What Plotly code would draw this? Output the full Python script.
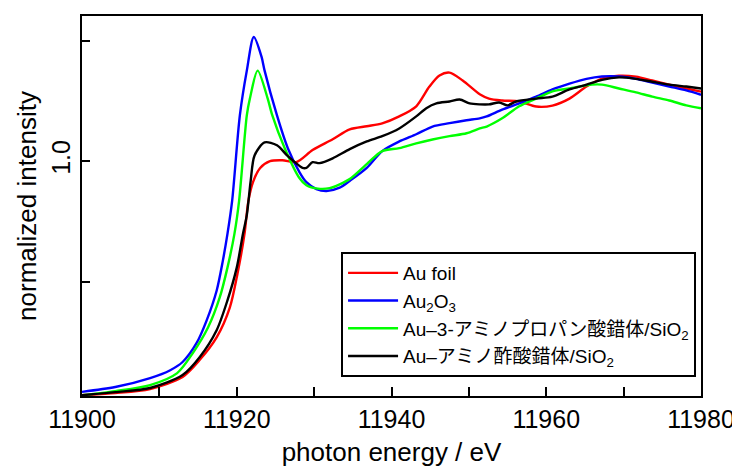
import plotly.graph_objects as go

# ---- data ----
x_foil = [11900, 11904.3, 11908.8, 11913.0, 11915.2, 11917.4, 11919.1, 11920.1, 11921.0, 11921.5,
          11922.1, 11923.0, 11924.3, 11925.9, 11927.7, 11929.8, 11932.4, 11934.6, 11936.8, 11938.8,
          11941.0, 11943.2, 11944.9, 11946.2, 11947.5, 11949.2, 11951.4, 11952.6, 11954.3, 11956.5,
          11958.7, 11960.8, 11963.0, 11965.2, 11967.2, 11969.4, 11971.6, 11973.7, 11975.9, 11978.1, 11980]
y_foil = [0.028, 0.037, 0.054, 0.104, 0.174, 0.268, 0.392, 0.534, 0.698, 0.834,
          0.913, 0.971, 1.000, 1.004, 0.996, 1.046, 1.091, 1.132, 1.145, 1.157,
          1.186, 1.228, 1.310, 1.356, 1.368, 1.335, 1.278, 1.260, 1.252, 1.248,
          1.227, 1.231, 1.260, 1.310, 1.343, 1.355, 1.351, 1.335, 1.318, 1.302, 1.289]

x_au2o3 = [11900, 11904.3, 11908.8, 11911.4, 11913.0, 11914.8, 11916.1, 11917.4, 11918.2, 11918.8,
           11919.4, 11920.4, 11921.3, 11922.2, 11923.2, 11923.6, 11925.2, 11926.6, 11928.1, 11929.0,
           11930.3, 11931.6, 11933.3, 11934.6, 11936.8, 11938.8, 11941.0, 11943.2, 11945.3, 11947.5,
           11949.7, 11951.4, 11952.3, 11954.3, 11956.5, 11958.7, 11960.8, 11963.0, 11965.2, 11967.2,
           11969.4, 11971.6, 11973.7, 11975.9, 11978.1, 11980]
y_au2o3 = [0.042, 0.062, 0.099, 0.132, 0.166, 0.244, 0.338, 0.462, 0.586, 0.698,
           0.834, 1.190, 1.376, 1.516, 1.434, 1.376, 1.190, 1.054, 0.955, 0.913,
           0.884, 0.876, 0.890, 0.918, 0.972, 1.042, 1.082, 1.112, 1.144, 1.158,
           1.170, 1.178, 1.186, 1.214, 1.240, 1.268, 1.298, 1.322, 1.342, 1.352,
           1.352, 1.342, 1.326, 1.310, 1.294, 1.276]

x_amp = [11900, 11904.3, 11908.8, 11912.3, 11914.3, 11916.3, 11917.8, 11918.8, 11919.7, 11920.3,
         11921.3, 11921.7, 11922.7, 11924.0, 11924.6, 11926.2, 11928.1, 11929.0, 11930.5, 11932.0,
         11933.3, 11934.6, 11936.8, 11938.8, 11941.0, 11943.2, 11945.3, 11947.5, 11949.7, 11951.4,
         11952.3, 11954.3, 11956.5, 11958.7, 11960.8, 11963.0, 11965.9, 11967.2, 11969.4, 11971.6,
         11973.7, 11975.9, 11978.1, 11980]
y_amp = [0.028, 0.045, 0.070, 0.120, 0.202, 0.310, 0.434, 0.558, 0.698, 0.834,
         1.190, 1.260, 1.376, 1.260, 1.190, 1.054, 0.930, 0.900, 0.886, 0.888,
         0.904, 0.926, 0.988, 1.042, 1.054, 1.074, 1.090, 1.104, 1.116, 1.136,
         1.144, 1.178, 1.228, 1.260, 1.290, 1.302, 1.318, 1.318, 1.302, 1.286,
         1.268, 1.252, 1.232, 1.220]

x_gly = [11900, 11904.3, 11908.8, 11913.0, 11915.2, 11917.4, 11918.8, 11920.0, 11920.8, 11921.3,
         11921.8, 11922.3, 11923.6, 11925.2, 11926.5, 11927.5, 11928.5, 11929.0, 11929.8, 11930.7,
         11932.4, 11934.6, 11936.8, 11938.8, 11941.0, 11943.2, 11944.5, 11945.8, 11947.5, 11948.8,
         11950.1, 11951.4, 11952.6, 11953.9, 11955.0, 11956.1, 11958.7, 11960.8, 11963.0, 11965.2,
         11967.2, 11969.4, 11971.6, 11973.7, 11975.9, 11978.1, 11980]
y_gly = [0.028, 0.041, 0.058, 0.112, 0.186, 0.298, 0.422, 0.558, 0.698, 0.776,
         0.918, 1.024, 1.078, 1.066, 1.024, 0.996, 0.972, 0.972, 0.996, 0.992,
         1.012, 1.050, 1.082, 1.104, 1.136, 1.186, 1.220, 1.240, 1.248, 1.256,
         1.240, 1.236, 1.236, 1.244, 1.232, 1.248, 1.260, 1.268, 1.298, 1.318,
         1.338, 1.348, 1.342, 1.330, 1.318, 1.310, 1.302]

series_names = ["Au foil", "Au<sub>2</sub>O<sub>3</sub>",
                "Au–3-アミノプロパン酸錯体/SiO<sub>2</sub>",
                "Au–アミノ酢酸錯体/SiO<sub>2</sub>"]
series_colors = ["#ff0000", "#0000ff", "#00ff00", "#000000"]

x_tickvals = [11900, 11910, 11920, 11930, 11940, 11950, 11960, 11970, 11980]
x_ticktext = ["11900", "", "11920", "", "11940", "", "11960", "", "11980"]
y_tickvals = [0.5, 1.0, 1.5]
y_ticktext = ["", "1.0", ""]

FONT = "Liberation Sans, Arial, Noto Sans CJK JP, sans-serif"

fig = go.Figure()
for xs, ys, name, col in zip([x_foil, x_au2o3, x_amp, x_gly],
                             [y_foil, y_au2o3, y_amp, y_gly],
                             series_names, series_colors):
    fig.add_trace(go.Scatter(x=xs, y=ys, name=name, mode="lines",
                             line=dict(color=col, width=2.4, shape="spline", smoothing=0.8)))

fig.update_layout(
    width=740, height=468,
    margin=dict(l=74, r=47, t=6, b=80),
    paper_bgcolor="white", plot_bgcolor="white",
    font=dict(family=FONT, color="black"),
    showlegend=True,
    legend=dict(x=0.4185, y=0.379, xanchor="left", yanchor="top",
                bordercolor="black", borderwidth=2, bgcolor="white",
                font=dict(size=19, family=FONT), itemwidth=50,
                tracegroupgap=0),
)
fig.update_xaxes(range=[11900, 11980], tickvals=x_tickvals, ticktext=x_ticktext,
                 ticks="inside", ticklen=9, tickwidth=2, tickcolor="black",
                 showline=True, linewidth=2, linecolor="black", mirror=True,
                 showgrid=False, zeroline=False,
                 tickfont=dict(size=25, family=FONT),
                 title=dict(text="photon energy / eV", font=dict(size=26, family=FONT), standoff=11))
fig.update_yaxes(range=[0.0248, 1.603], tickvals=y_tickvals, ticktext=y_ticktext,
                 ticks="inside", ticklen=8, tickwidth=2, tickcolor="black", tickangle=-90,
                 showline=True, linewidth=2, linecolor="black", mirror=True,
                 showgrid=False, zeroline=False,
                 tickfont=dict(size=25, family=FONT),
                 title=dict(text="normalized intensity", font=dict(size=26, family=FONT), standoff=3))

fig.write_html("out.html")
